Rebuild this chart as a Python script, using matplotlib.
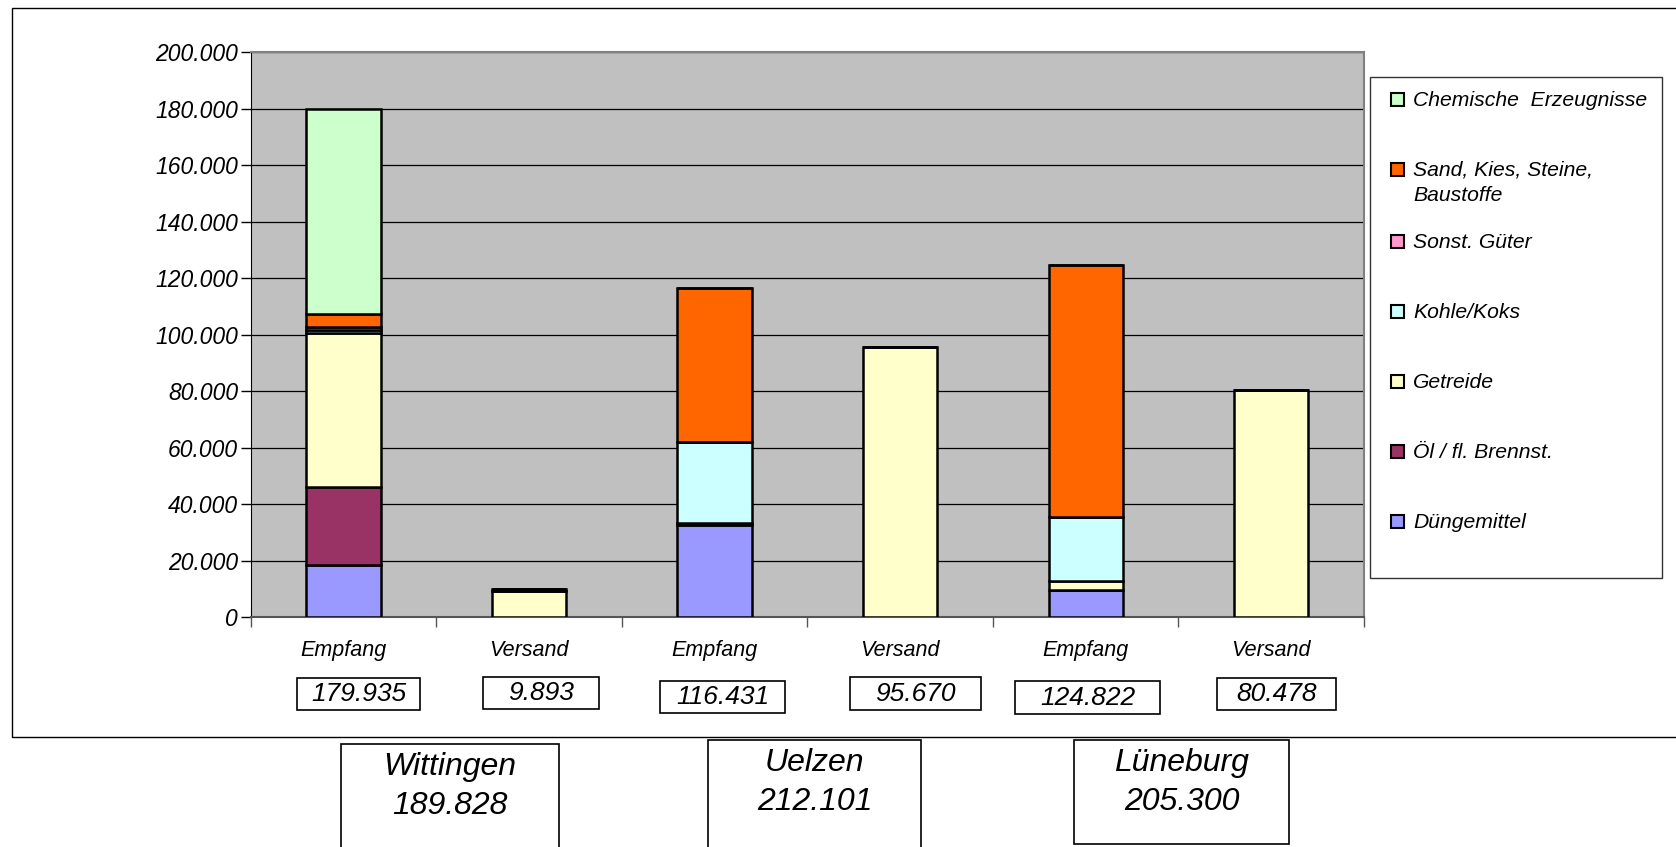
import matplotlib.pyplot as plt
import numpy as np
from matplotlib.patches import Rectangle
from matplotlib.ticker import FuncFormatter, MultipleLocator

plt.rcParams['font.family'] = ['Liberation Sans', 'DejaVu Sans']
plt.rcParams['font.style'] = 'italic'

# data (tons)
categories = ["Empfang", "Versand", "Empfang", "Versand", "Empfang", "Versand"]
totals = ["179.935", "9.893", "116.431", "95.670", "124.822", "80.478"]
cities = ["Wittingen", "Uelzen", "Lüneburg"]
city_totals = ["189.828", "212.101", "205.300"]

duengemittel = [18400, 0, 32600, 0, 9500, 0]
oel = [27600, 0, 800, 0, 0, 0]
getreide = [54600, 9193, 0, 95670, 3500, 80478]
kohle = [1200, 0, 28600, 0, 22500, 0]
sonst = [900, 700, 0, 0, 0, 0]
sand = [4600, 0, 54431, 0, 89322, 0]
chemie = [72635, 0, 0, 0, 0, 0]

series = [
    ("Düngemittel", duengemittel, "#9999FF"),
    ("Öl / fl. Brennst.", oel, "#993366"),
    ("Getreide", getreide, "#FFFFCC"),
    ("Kohle/Koks", kohle, "#CCFFFF"),
    ("Sonst. Güter", sonst, "#FF99CC"),
    ("Sand, Kies, Steine,\nBaustoffe", sand, "#FF6600"),
    ("Chemische  Erzeugnisse", chemie, "#CCFFCC"),
]

W, H = 1676, 847
def fx(x):
    return x / W
def fy(y):
    return 1 - y / H

fig = plt.figure(figsize=(16.76, 8.47), dpi=100)

# outer chart frame
fig.patches.append(Rectangle((fx(12), fy(737)), fx(1700) - fx(12), fy(7.5) - fy(737),
                             transform=fig.transFigure, fill=False, ec="#000000", lw=1.0))

ax = fig.add_axes([fx(250.7), fy(617.3), fx(1364) - fx(250.7), fy(52.3) - fy(617.3)])
ax.set_facecolor("#C0C0C0")

x = np.arange(len(categories))
bottom = np.zeros(len(categories))
for name, vals, col in series:
    vals = np.array(vals, dtype=float)
    ax.bar(x, vals, bottom=bottom, width=0.4, color=col, edgecolor="black", linewidth=1.8, zorder=3)
    bottom += vals

ax.set_xlim(-0.5, len(categories) - 0.5)
ax.set_ylim(0, 200000)
ax.yaxis.set_major_locator(MultipleLocator(20000))
ax.yaxis.set_major_formatter(FuncFormatter(lambda v, p: f"{int(v):,}".replace(",", ".")))
ax.grid(axis="y", color="black", linewidth=0.9, zorder=1)
ax.set_axisbelow(True)

ax.set_xticks(x)
ax.set_xticklabels(categories, fontsize=15.5)
ax.set_xticks(np.arange(len(categories) + 1) - 0.5, minor=True)
ax.tick_params(axis="x", which="major", length=0, pad=16)
ax.tick_params(axis="x", which="minor", length=7, width=1, direction="out", color="#555555")
ax.tick_params(axis="y", length=7, width=1, labelsize=16.5, pad=2)

for s in ["top", "right"]:
    ax.spines[s].set_color("#808080")
    ax.spines[s].set_linewidth(1.5)
ax.spines["left"].set_color("black")
ax.spines["bottom"].set_color("#555555")
ax.spines["bottom"].set_linewidth(1.5)

# total boxes under each bar
boxes = [(297, 678, 420, 710), (483, 677, 599, 709), (660, 681, 785, 713),
         (850, 677, 981, 710), (1015, 681, 1160, 714), (1217, 678, 1336, 710)]
for (x0, y0, x1, y1), t in zip(boxes, totals):
    fig.patches.append(Rectangle((fx(x0), fy(y1)), fx(x1) - fx(x0), fy(y0) - fy(y1),
                                 transform=fig.transFigure, fill=False, ec="black", lw=1.2))
    fig.text(fx((x0 + x1) / 2), fy((y0 + y1) / 2), t, ha="center", va="center", fontsize=19)

# city boxes
city_boxes = [(341, 744, 559, 860), (708, 740, 921, 860), (1074, 740, 1289, 844)]
for (x0, y0, x1, y1), c, t in zip(city_boxes, cities, city_totals):
    fig.patches.append(Rectangle((fx(x0), fy(y1)), fx(x1) - fx(x0), fy(y0) - fy(y1),
                                 transform=fig.transFigure, fill=False, ec="black", lw=1.2))
    cx = fx((x0 + x1) / 2)
    fig.text(cx, fy(y0 + 23), c, ha="center", va="center", fontsize=23)
    fig.text(cx, fy(y0 + 62), t, ha="center", va="center", fontsize=23)

# legend drawn by hand
fig.patches.append(Rectangle((fx(1370), fy(578)), fx(1662) - fx(1370), fy(77) - fy(578),
                             transform=fig.transFigure, fill=False, ec="#333333", lw=1.0))
leg_y = [522, 452, 382, 312, 242, 170, 100]
for (name, vals, col), ly in zip(series, leg_y):
    fig.patches.append(Rectangle((fx(1391), fy(ly + 6)), fx(13), fy(0) - fy(13),
                                 transform=fig.transFigure, fc=col, ec="black", lw=1.5))
    for i, line in enumerate(name.split("\n")):
        fig.text(fx(1413), fy(ly + i * 25.5), line, ha="left", va="center", fontsize=15.2)

fig.savefig("out.png", dpi=100)
